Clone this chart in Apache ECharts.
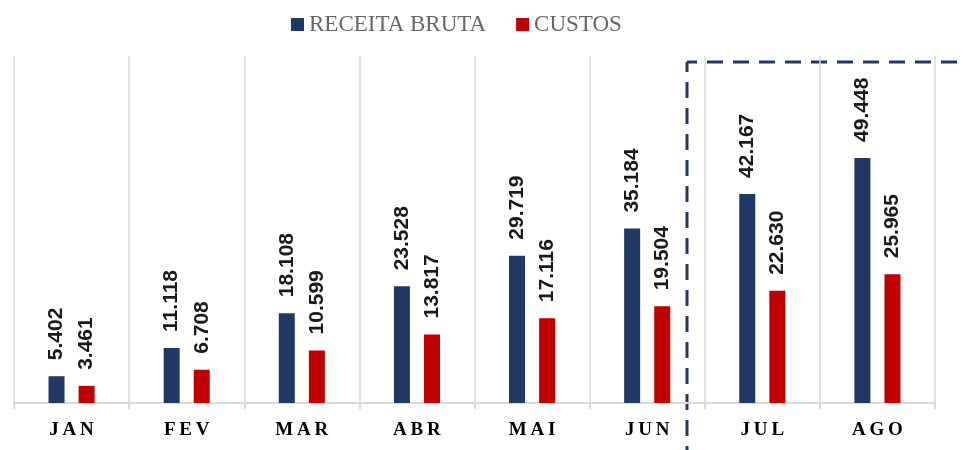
<!DOCTYPE html>
<html>
<head>
<meta charset="utf-8">
<script src="https://cdn.jsdelivr.net/npm/echarts@6/dist/echarts.min.js"></script>
<style>
  html, body { margin: 0; padding: 0; background: #fff; }
  #chart { width: 963px; height: 450px; }
</style>
</head>
<body>
<div id="chart"></div>
<script>
const months = ['JAN', 'FEV', 'MAR', 'ABR', 'MAI', 'JUN', 'JUL', 'AGO']
const receitaBruta = [5402, 11118, 18108, 23528, 29719, 35184, 42167, 49448]
const custos = [3461, 6708, 10599, 13817, 17116, 19504, 22630, 25965]

const gridColor = '#d9d9d9'
const navy = '#203864'
const red = '#c00000'
const serifFont = '"Liberation Serif", serif'

// 5402 -> "5.402"
const fmt = (v) => String(v).replace(/\B(?=(\d{3})+(?!\d))/g, '.')

const barLabel = {
  show: true,
  position: 'top',
  rotate: 90,
  align: 'left',
  verticalAlign: 'middle',
  distance: 16,
  formatter: (p) => fmt(p.value),
  color: '#1a1a1a',
  fontFamily: '"Liberation Sans", Arial, sans-serif',
  fontWeight: 'bold',
  fontSize: 21,
}

const chart = echarts.init(document.getElementById('chart'))

chart.setOption({
  animation: false,
  legend: {
    top: 8,
    left: 286,
    itemWidth: 13,
    itemHeight: 13,
    itemGap: 30,
    icon: 'rect',
    textStyle: {
      color: '#666666',
      fontFamily: serifFont,
      fontSize: 23,
    },
  },
  grid: {
    left: 14,
    right: 28,
    top: 56,
    bottom: 47,
  },
  xAxis: {
    type: 'category',
    data: months,
    axisLine: { lineStyle: { color: gridColor, width: 2 } },
    axisTick: { show: true, length: 6, lineStyle: { color: gridColor, width: 2 } },
    splitLine: { show: true, lineStyle: { color: gridColor, width: 1.5 } },
    axisLabel: {
      margin: 18,
      color: '#000',
      fontFamily: serifFont,
      fontWeight: 'bold',
      fontSize: 19,
      formatter: (v) => v.split('').join('\u2009'),
    },
  },
  yAxis: {
    type: 'value',
    min: 0,
    max: 70000,
    show: false,
    splitLine: { show: false },
  },
  series: [
    {
      name: 'RECEITA BRUTA',
      type: 'bar',
      data: receitaBruta,
      barWidth: 16,
      barGap: '88%',
      itemStyle: { color: navy },
      label: barLabel,
    },
    {
      name: 'CUSTOS',
      type: 'bar',
      data: custos,
      barWidth: 16,
      itemStyle: { color: red },
      label: barLabel,
    },
  ],
  // dashed frame around the last two months
  graphic: [
    {
      type: 'line',
      shape: { x1: 687, y1: 62, x2: 687, y2: 470 },
      style: { stroke: navy, lineWidth: 3, lineDash: [16, 10], lineDashOffset: 6 },
    },
    {
      type: 'line',
      shape: { x1: 687, y1: 62, x2: 990, y2: 62 },
      style: { stroke: navy, lineWidth: 3, lineDash: [16, 10], lineDashOffset: 6 },
    },
  ],
})
</script>
</body>
</html>
